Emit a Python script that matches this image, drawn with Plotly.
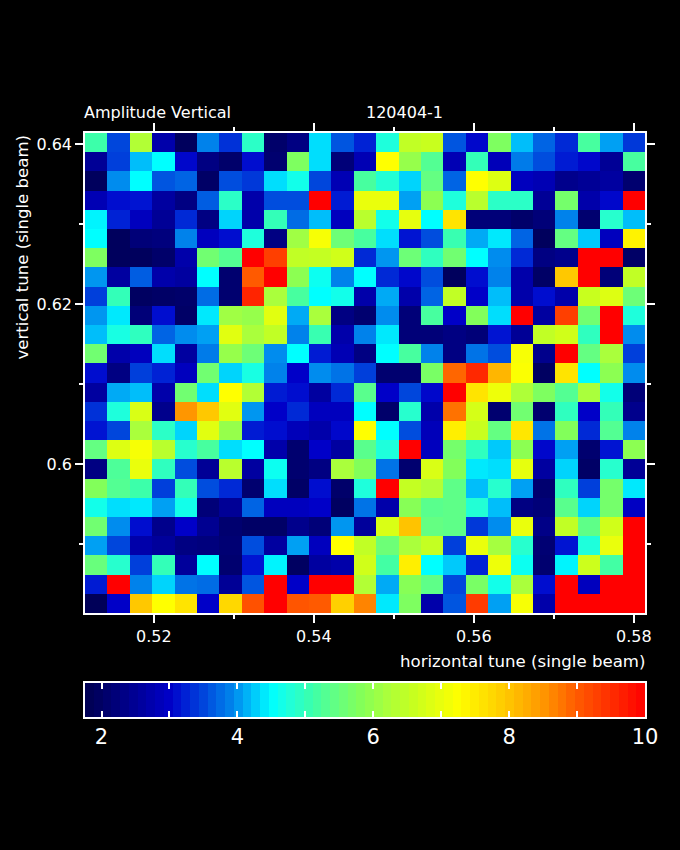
import plotly.graph_objects as go

W, H = 680, 850
FONT = "DejaVu Sans"

x_start = 0.5114
x_step = 0.0028
y_start = 0.6414
y_step = 0.0024
x_ticks = [0.52, 0.54, 0.56, 0.58]
y_ticks = [0.60, 0.62, 0.64]
amp_min = 1.757
amp_max = 10.0
bar_ticks = [2, 4, 6, 8, 10]
title_left = "Amplitude Vertical"
title_right = "120404-1"
x_title = "horizontal tune (single beam)"
y_title = "vertical tune (single beam)"

# amplitude, rows listed from the top of the map to the bottom
row01 = [5.1,3.5,6.3,2.7,1.9,3.9,3.35,4.9,2.05,2.3,4.35,3.6,3.25,4.75,6.5,6.6,3.6,3.05,5.75,4.2,3.7,3.3,5.2,4.05,3.4]
row02 = [2.5,3.45,4.2,4.5,3.05,2.3,2.05,3.1,2.1,5.75,4.35,2.2,2.8,7.25,6.0,5.3,2.8,5.0,2.85,3.85,3.55,3.2,3.05,2.5,5.2]
row03 = [1.9,3.95,4.5,3.6,3.7,2.0,3.55,3.4,4.35,4.65,3.5,2.8,5.2,4.8,4.3,5.45,3.7,7.25,6.85,2.9,2.8,2.4,2.5,2.6,2.1]
row04 = [2.8,3.1,3.15,2.6,2.3,3.65,4.9,2.7,3.55,3.55,10,3.2,7.0,7.0,4.05,5.9,4.75,6.4,4.9,4.9,2.5,5.65,2.7,3.05,10]
row05 = [4.45,3.25,2.9,2.5,3.3,2.3,4.3,2.7,5.0,3.75,4.2,2.9,6.4,4.65,6.95,4.5,7.6,2.2,2.2,2.05,2.2,3.9,2.1,4.85,4.2]
row06 = [4.5,1.9,2.2,2.25,3.9,2.9,3.1,4.75,2.3,6.1,7.15,5.55,5.2,4.35,3.15,3.55,5.05,4.1,4.4,3.7,1.9,5.45,4.25,2.9,7.4]
row07 = [5.75,1.9,1.9,2.05,2.7,5.6,5.3,10,9.3,6.5,6.55,6.7,3.3,4.0,5.55,4.95,5.6,4.5,3.95,3.3,2.3,2.4,10,10,2.0]
row08 = [4.0,2.6,3.65,2.7,2.6,4.5,2.1,9.0,10,5.9,4.6,3.9,4.5,3.3,3.05,3.55,1.9,3.1,3.9,2.7,2.0,7.95,10,2.2,6.5]
row09 = [3.45,5.0,1.95,2.0,2.05,3.75,2.1,9.6,6.2,5.2,4.5,4.65,2.7,4.1,2.7,3.7,6.5,3.0,4.2,2.7,3.1,2.7,6.6,6.85,5.55]
row10 = [4.0,4.4,2.2,3.1,2.0,4.4,6.1,6.0,6.9,4.1,6.2,2.3,2.1,3.95,2.2,5.2,3.0,5.8,4.35,10,2.6,9.3,5.6,10,4.75]
row11 = [4.2,4.7,4.95,3.7,3.95,4.05,6.9,6.2,6.5,3.9,5.05,2.7,3.9,4.4,2.2,2.2,2.3,2.2,3.15,2.5,6.5,6.7,4.95,10,3.95]
row12 = [5.6,2.7,2.9,4.35,2.6,3.85,6.0,5.55,3.95,4.5,3.2,2.8,2.3,4.5,5.2,3.9,2.3,3.8,3.55,7.15,2.4,10,5.45,6.2,3.45]
row13 = [3.1,2.3,3.45,3.25,2.9,5.6,4.3,4.7,3.9,3.0,3.95,3.8,3.45,2.1,2.1,5.7,8.9,9.55,8.15,7.2,1.95,7.6,4.5,5.9,3.95]
row14 = [2.6,4.1,4.2,2.7,5.6,4.35,7.25,6.3,3.2,3.1,2.6,3.3,5.35,3.0,3.5,3.05,10,7.6,7.05,6.25,5.75,5.3,6.2,4.65,2.2]
row15 = [3.35,4.75,6.8,2.4,8.5,7.95,6.9,4.0,3.0,3.3,2.9,2.9,4.5,2.05,4.85,2.7,8.8,6.75,2.1,5.6,2.1,4.95,3.0,5.0,2.4]
row16 = [3.15,3.5,6.2,4.9,4.3,6.9,6.0,3.2,3.1,2.85,2.7,3.05,7.25,4.5,3.55,2.85,7.45,6.6,5.45,7.55,3.8,5.8,3.3,5.3,3.9]
row17 = [5.45,6.85,7.15,6.4,4.85,5.2,4.35,4.5,2.7,2.1,3.0,2.6,5.35,4.75,10,2.9,5.65,4.95,4.25,5.9,3.05,4.05,2.1,3.15,5.9]
row18 = [2.3,5.25,7.0,4.95,3.55,2.5,6.4,2.6,4.6,2.1,2.3,6.2,5.8,3.8,2.1,6.8,5.8,4.4,4.35,6.95,2.6,4.3,2.0,4.85,2.5]
row19 = [5.8,5.3,5.1,3.45,5.0,3.55,3.3,2.1,4.35,2.0,3.1,2.05,4.75,10,6.55,6.3,5.4,4.2,4.85,4.05,2.1,4.95,3.45,5.65,4.4]
row20 = [4.65,4.35,4.4,4.05,4.65,2.2,2.5,3.7,2.9,2.9,3.0,1.95,3.8,2.7,5.85,5.35,5.4,4.8,4.2,2.3,2.2,5.35,4.3,5.65,2.95]
row21 = [5.6,3.95,3.1,2.4,3.0,2.45,2.1,2.0,2.0,2.4,2.2,4.0,2.55,6.8,8.0,5.45,5.4,3.4,3.95,7.0,2.35,6.5,5.4,6.7,10]
row22 = [4.05,3.5,2.7,2.55,2.3,2.25,2.15,3.55,2.6,4.05,2.9,7.25,6.5,5.55,6.2,6.55,3.45,7.0,6.15,4.85,2.15,3.15,4.75,7.0,10]
row23 = [5.5,4.85,3.45,5.0,2.55,4.5,2.1,3.15,4.45,1.95,2.6,2.7,6.7,5.15,7.45,4.5,4.25,3.25,7.05,4.6,2.1,4.45,6.65,5.15,10]
row24 = [3.2,10,3.9,4.3,3.8,3.75,2.5,3.6,10,3.0,10,10,6.3,4.1,5.85,5.4,3.5,5.7,4.65,6.2,3.1,10,2.9,10,10]
row25 = [1.85,3.0,7.95,7.25,7.6,3.0,7.75,9.1,10,9.05,9.0,7.85,8.65,4.4,5.75,2.7,3.6,9.35,4.05,7.15,2.7,10,10,10,10]

amplitude = [row01,row02,row03,row04,row05,row06,row07,row08,row09,row10,row11,row12,row13,
             row14,row15,row16,row17,row18,row19,row20,row21,row22,row23,row24,row25]

# colour ramp as amplitude -> colour
ramp_values = [1.757,2.2,2.6,3.0,3.15,3.5,3.9,4.2,4.5,4.75,5.1,5.45,5.8,6.2,6.6,7.25,7.95,8.5,9.0,9.5,10.0]
ramp_colors = ["#000050","#000078","#0000a0","#0000c8","#0014d2","#0046dc","#0082eb","#00befa","#00ffff",
               "#1effdc","#3cffaa","#64ff82","#82ff5a","#aaff3c","#c8ff1e","#ffff00","#ffc800","#ff9600",
               "#ff5a00","#ff2d00","#ff0000"]
colorscale = [[(v - amp_min) / (amp_max - amp_min), c] for v, c in zip(ramp_values, ramp_colors)]

# levels of the stepped colour bar
n_levels = 64
bar_step = (amp_max - amp_min) / n_levels
bar_levels = [amp_min + (i + 0.5) * bar_step for i in range(n_levels)]


def px_x(px):
    return px / W


def px_y(px):
    return 1 - px / H


fig = go.Figure()
fig.add_trace(go.Heatmap(
    z=amplitude, x0=x_start + x_step / 2, dx=x_step, y0=y_start - y_step / 2, dy=-y_step,
    coloraxis="coloraxis", hovertemplate="Qx %{x:.4f}<br>Qy %{y:.4f}<br>amp %{z:.2f}<extra></extra>",
))
fig.add_trace(go.Heatmap(
    z=[bar_levels], x=bar_levels, y=[0], xaxis="x2", yaxis="y2",
    coloraxis="coloraxis", hoverinfo="skip",
))

tick_font = dict(family=FONT, size=16, color="white")
title_font = dict(family=FONT, size=16.6, color="white")
axis_common = dict(
    showgrid=False, zeroline=False, showline=True, linecolor="white", linewidth=1.5,
    mirror="ticks", ticks="outside", ticklen=8, tickcolor="white", tickwidth=1.5,
    tickfont=tick_font, automargin=False,
)
fig.update_layout(
    width=W, height=H, margin=dict(l=0, r=0, t=0, b=0, pad=0),
    paper_bgcolor="black", plot_bgcolor="black", font=dict(family=FONT, color="white", size=16),
    showlegend=False,
    coloraxis=dict(cmin=amp_min, cmax=amp_max, colorscale=colorscale, showscale=False),
    xaxis=dict(axis_common, domain=[px_x(85), px_x(645)], range=[x_start, x_start + 25 * x_step],
               tickvals=x_ticks, ticktext=[f"{v:g}" for v in x_ticks],
               minor=dict(ticks="outside", ticklen=4, dtick=0.01, tick0=0.5, tickcolor="white", tickwidth=1.5),
               anchor="y"),
    yaxis=dict(axis_common, domain=[px_y(613), px_y(133)], range=[y_start - 25 * y_step, y_start],
               tickvals=y_ticks, ticktext=[f"{v:g}" for v in y_ticks],
               minor=dict(ticks="outside", ticklen=4, dtick=0.01, tick0=0.5, tickcolor="white", tickwidth=1.5),
               anchor="x"),
    xaxis2=dict(showgrid=False, zeroline=False, showline=True, linecolor="white", linewidth=1.5, mirror="ticks",
                ticks="inside", ticklen=6, tickcolor="white", tickwidth=1.5,
                tickfont=dict(family=FONT, size=21, color="white"), automargin=False,
                domain=[px_x(85), px_x(645)], range=[amp_min, amp_max], tickvals=bar_ticks,
                minor=dict(ticks="inside", ticklen=6, dtick=1, tick0=1, tickcolor="white", tickwidth=1.5),
                anchor="y2"),
    yaxis2=dict(showgrid=False, zeroline=False, showline=True, linecolor="white", linewidth=1.5, mirror=True,
                ticks="", showticklabels=False, automargin=False,
                domain=[px_y(717), px_y(683)], range=[-0.5, 0.5], anchor="x2"),
    annotations=[
        dict(text=title_left, xref="paper", yref="paper", x=px_x(85), y=px_y(112), xanchor="left", yanchor="middle",
             showarrow=False, font=tick_font, xshift=-3),
        dict(text=title_right, xref="paper", yref="paper", x=px_x(367), y=px_y(112), xanchor="left", yanchor="middle",
             showarrow=False, font=tick_font, xshift=-3),
        dict(text=x_title, xref="paper", yref="paper", x=px_x(645), y=px_y(661), xanchor="right", yanchor="middle",
             showarrow=False, font=title_font, xshift=3),
        dict(text=y_title, xref="paper", yref="paper", x=px_x(22), y=px_y(133), xanchor="center", yanchor="top",
             textangle=-90, showarrow=False, font=title_font),
    ],
)

fig.write_html("out.html", config={"displayModeBar": False},
               post_script="document.body.style.margin='0';document.body.style.background='black';")
